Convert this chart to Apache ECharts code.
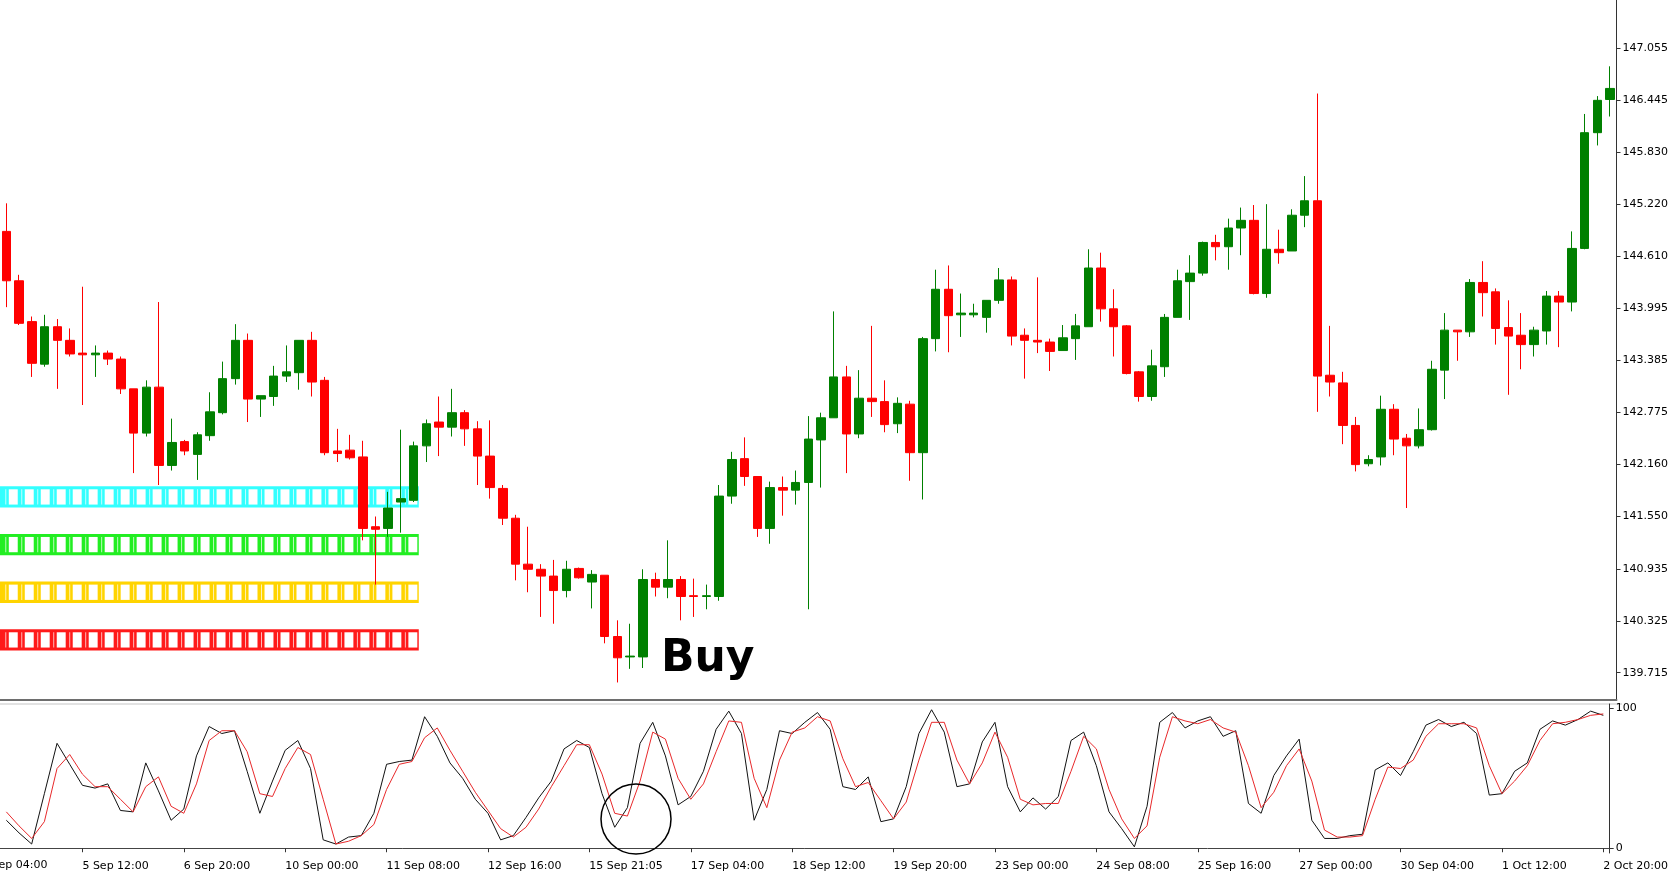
<!DOCTYPE html>
<html><head><meta charset="utf-8">
<script src="https://cdn.jsdelivr.net/npm/echarts@6/dist/echarts.min.js"></script>
<style>html,body{margin:0;padding:0;background:#fff}#c{width:1671px;height:876px}</style>
</head><body><div id="c"></div>
<script>
const openP=[144.90,144.32,143.84,143.34,143.78,143.62,143.47,143.45,143.47,143.40,143.05,142.53,143.07,142.15,142.43,142.28,142.50,142.77,143.17,143.62,142.93,142.96,143.20,143.24,143.62,143.15,142.32,142.33,142.25,141.43,141.41,141.72,141.74,142.38,142.66,142.60,142.77,142.58,142.26,141.88,141.53,140.99,140.93,140.85,140.68,140.94,140.78,140.86,140.14,139.90,139.90,140.81,140.72,140.81,140.62,140.61,140.61,141.79,142.23,142.02,141.41,141.89,141.86,141.95,142.45,142.71,143.19,142.52,142.94,142.90,142.64,142.87,142.30,143.64,144.22,143.92,143.92,143.89,144.09,144.33,143.68,143.62,143.60,143.50,143.64,143.78,144.47,143.99,143.79,143.25,142.96,143.31,143.89,144.31,144.41,144.77,144.72,144.94,145.03,144.17,144.69,144.67,145.09,145.26,143.21,143.12,142.62,142.17,142.25,142.81,142.47,142.38,142.57,143.27,143.74,143.72,144.30,144.19,143.77,143.68,143.57,143.73,144.14,144.07,144.70,146.06,146.45];
const closeP=[144.32,143.82,143.35,143.78,143.62,143.46,143.45,143.47,143.40,143.05,142.53,143.07,142.15,142.42,142.32,142.51,142.78,143.17,143.62,142.93,142.97,143.20,143.25,143.62,143.13,142.30,142.29,142.24,141.41,141.40,141.65,141.76,142.38,142.64,142.60,142.77,142.58,142.26,141.89,141.53,140.99,140.93,140.85,140.68,140.93,140.83,140.87,140.14,139.89,139.91,140.81,140.72,140.81,140.61,140.61,140.62,141.79,142.22,142.02,141.41,141.89,141.86,141.95,142.46,142.71,143.19,142.52,142.94,142.90,142.63,142.88,142.30,143.64,144.22,143.91,143.94,143.94,144.09,144.33,143.67,143.62,143.60,143.49,143.65,143.79,144.47,143.99,143.78,143.23,142.96,143.32,143.89,144.32,144.41,144.77,144.72,144.94,145.03,144.17,144.69,144.65,145.09,145.26,143.20,143.13,142.62,142.16,142.22,142.81,142.46,142.38,142.57,143.28,143.74,143.72,144.30,144.18,143.76,143.67,143.57,143.74,144.14,144.07,144.70,146.06,146.44,146.58];
const lowP=[144.01,143.80,143.19,143.31,143.05,143.43,142.86,143.19,143.33,142.99,142.06,142.49,141.92,142.09,142.27,141.98,142.44,142.75,143.10,142.66,142.72,142.85,143.13,143.04,142.96,142.27,142.19,142.22,141.27,140.75,141.31,141.36,141.72,142.19,142.26,142.49,142.38,141.92,141.76,141.45,140.80,140.66,140.37,140.29,140.60,140.82,140.47,140.06,139.60,139.76,139.77,140.61,140.59,140.33,140.37,140.46,140.56,141.70,141.91,141.31,141.23,141.56,141.69,140.46,141.89,142.71,142.06,142.47,142.72,142.54,142.53,141.97,141.75,143.49,143.48,143.66,143.89,143.71,144.05,143.56,143.17,143.47,143.26,143.50,143.39,143.78,143.84,143.43,143.22,142.90,142.91,143.19,143.89,143.86,144.38,144.56,144.45,144.62,144.16,144.12,144.52,144.67,144.95,142.78,142.96,142.40,142.08,142.14,142.15,142.27,141.65,142.35,142.56,142.93,143.38,143.66,143.90,143.57,142.98,143.28,143.43,143.57,143.54,143.96,144.69,145.91,146.25];
const highP=[145.23,144.39,143.90,143.92,143.87,143.76,144.25,143.56,143.50,143.43,143.05,143.15,144.07,142.70,142.45,142.54,143.01,143.37,143.81,143.70,142.97,143.32,143.56,143.62,143.72,143.19,142.58,142.51,142.44,141.55,141.84,142.57,142.43,142.69,142.96,143.05,142.80,142.67,142.68,141.92,141.57,141.43,140.99,141.04,141.03,140.95,140.92,140.86,140.33,140.29,140.93,140.89,141.27,140.85,140.82,140.75,141.92,142.31,142.48,142.02,141.96,142.02,142.09,142.73,142.77,143.96,143.32,143.27,143.79,143.15,142.95,142.91,143.66,144.45,144.50,144.17,144.05,144.09,144.47,144.37,143.76,144.36,143.64,143.80,143.93,144.69,144.65,144.22,143.80,143.26,143.51,143.93,144.45,144.62,144.78,144.86,145.05,145.18,145.21,145.22,144.92,145.16,145.55,146.52,143.79,143.25,142.72,142.27,142.97,142.87,142.52,142.82,143.38,143.94,143.74,144.34,144.55,144.23,144.09,143.94,143.78,144.20,144.20,144.90,146.28,146.49,146.84];
const stochK=[20,11,3,39,75,60,45,43,46,27,26,61,41,20,28,66,87,82,84,55,25,48,70,77,57,6,3,8,9,25,60,62,63,94,80,61,50,35,25,6,9,22,36,48,71,77,72,39,15,29,75,90,66,31,37,55,85,98,82,20,42,84,82,90,97,85,44,42,51,19,21,44,82,99,83,44,46,76,90,44,26,36,28,37,77,83,59,26,14,1,30,90,97,86,91,94,80,84,32,25,52,66,78,20,7,7,9,10,56,61,52,69,88,92,87,90,82,38,39,55,61,85,91,88,92,98,95];
const stochD=[26,16,7,19,57,67,53,44,44,35,26,44,51,30,25,46,77,84,84,69,39,37,57,72,67,35,3,5,9,17,42,60,62,79,86,70,55,40,27,14,8,15,28,44,59,74,74,53,25,23,48,83,78,50,35,46,69,91,90,50,29,63,83,86,94,91,64,44,47,34,21,33,63,90,90,63,46,61,83,65,35,31,32,32,55,80,71,42,21,7,16,65,94,91,89,92,86,83,59,29,40,59,71,48,13,8,8,9,35,58,57,63,80,89,89,89,86,59,39,48,59,77,89,90,92,95,96];
const priceTicks=[147.055,146.445,145.830,145.220,144.610,143.995,143.385,142.775,142.160,141.550,140.935,140.325,139.715];
const timeLabels=["4 Sep 04:00","5 Sep 12:00","6 Sep 20:00","10 Sep 00:00","11 Sep 08:00","12 Sep 16:00","15 Sep 21:05","17 Sep 04:00","18 Sep 12:00","19 Sep 20:00","23 Sep 00:00","24 Sep 08:00","25 Sep 16:00","27 Sep 00:00","30 Sep 04:00","1 Oct 12:00","2 Oct 20:00"];
const bandLevels=[141.78,141.22,140.66,140.10];
const bandColors=['#33ffff','#22ee22','#ffd400','#ff1a1a'];

const N=openP.length;
const isTick=i=>i>=6&&(i-6)%8===0;
const cats=[];for(let i=0;i<N;i++){cats.push(isTick(i)?timeLabels[1+(i-6)/8]:'');}
const candles=openP.map((o,i)=>[o,closeP[i],lowP[i],highP[i]]);

const chart=echarts.init(document.getElementById('c'),null,{renderer:'canvas'});
const FONT='DejaVu Sans';
chart.setOption({
  animation:false,
  backgroundColor:'#fff',
  grid:[{left:0,right:49,top:0,height:700},{left:0,right:49,top:704,height:149}],
  xAxis:[
    {type:'category',data:cats,boundaryGap:true,gridIndex:0,axisLabel:{show:false},axisTick:{show:false},
     axisLine:{show:true,lineStyle:{color:'#6e6e6e',width:2}},splitLine:{show:false}},
    {type:'category',data:cats,boundaryGap:true,gridIndex:1,position:'bottom',offset:2,
     axisLine:{show:true,lineStyle:{color:'#444',width:1}},
     axisTick:{show:true,length:4,alignWithLabel:true,interval:i=>isTick(i),lineStyle:{color:'#333'}},
     axisLabel:{show:true,interval:i=>isTick(i),align:'left',margin:6,color:'#000',fontFamily:FONT,fontSize:11,showMinLabel:true,showMaxLabel:true,hideOverlap:false},
     splitLine:{show:false}}
  ],
  yAxis:[
    {type:'value',gridIndex:0,position:'right',min:139.394,max:147.619,scale:true,
     axisLine:{show:true,lineStyle:{color:'#333'}},axisTick:{show:true,length:4,customValues:priceTicks,lineStyle:{color:'#333'}},
     axisLabel:{customValues:priceTicks,color:'#000',fontFamily:FONT,fontSize:11,margin:6,formatter:v=>v.toFixed(3)},
     splitLine:{show:false}},
    {type:'value',gridIndex:1,position:'right',min:-3.4,max:103.1,
     axisLine:{show:true,lineStyle:{color:'#333'}},axisTick:{show:true,length:4,customValues:[0,100],lineStyle:{color:'#333'}},
     axisLabel:{customValues:[0,100],color:'#000',fontFamily:FONT,fontSize:11,margin:6},
     splitLine:{show:false}}
  ],
  series:[
    {type:'custom',xAxisIndex:0,yAxisIndex:0,z:1,data:bandLevels.map((l,k)=>[k,l]),
     renderItem:(params,api)=>{
       const lvl=api.value(1),k=api.value(0);
       const p0=api.coord([0,lvl]),p1=api.coord([1,lvl]);
       const step=p1[0]-p0[0];
       const xs=p0[0]-step/2,xe=p0[0]+32.4*step;
       const top=api.coord([0,lvl+0.125])[1],bot=api.coord([0,lvl-0.125])[1];
       const h=bot-top;const col=bandColors[k];
       const ch=[{type:'rect',shape:{x:xs,y:top,width:xe-xs,height:h},style:{fill:col}}];
       const per=(xe-xs)/26.2;
       for(let j=0;j<26;j++){
         const cx=xs+per*(j+0.55);
         ch.push({type:'rect',shape:{x:cx,y:top+3,width:per*0.56,height:h-6},style:{fill:'#fff'}});
         ch.push({type:'rect',shape:{x:cx-per*0.22,y:top+3,width:1,height:h-6},style:{fill:'rgba(255,255,255,0.7)'}});
       }
       return {type:'group',children:ch};
     }},
    {type:'candlestick',xAxisIndex:0,yAxisIndex:0,z:3,data:candles,barWidth:9,
     itemStyle:{color:'#008000',color0:'#ff0000',borderColor:'#008000',borderColor0:'#ff0000',borderWidth:1}},
    {type:'line',xAxisIndex:1,yAxisIndex:1,data:stochK,symbol:'none',lineStyle:{color:'#111',width:1}},
    {type:'line',xAxisIndex:1,yAxisIndex:1,data:stochD,symbol:'none',lineStyle:{color:'#e8292b',width:1}}
  ],
  graphic:[
    {type:'text',x:-19,y:860,z:10,style:{text:timeLabels[0],fill:'#000',font:'11px "DejaVu Sans"',textVerticalAlign:'top'}},
    {type:'text',x:661,y:638,z:10,style:{text:'Buy',fill:'#000',font:'bold 44px "DejaVu Sans"'}},
    {type:'circle',shape:{cx:636,cy:819,r:35},style:{fill:'none',stroke:'#000',lineWidth:1.5},z:10},
    {type:'rect',shape:{x:0,y:703,width:1622,height:2},style:{fill:'#e2e2e2'},z:0}
  ]
});
</script></body></html>
